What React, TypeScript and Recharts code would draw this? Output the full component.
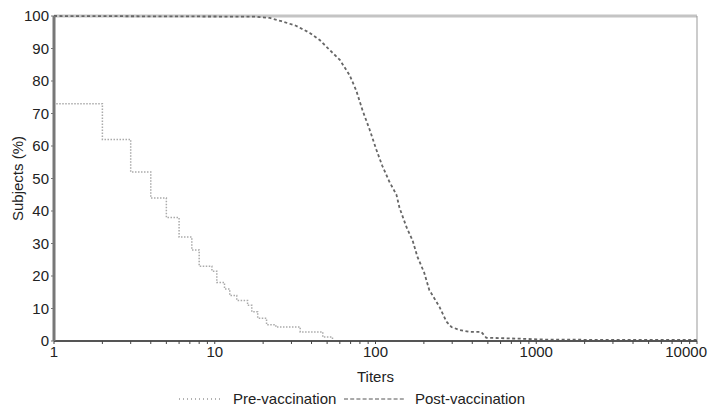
import React from 'react';
import { LineChart, Line, XAxis, YAxis, ReferenceLine, Legend } from 'recharts';

const preTiters = [1, 1, 2, 3, 4, 5, 6, 7.2, 8, 9.6, 10.3, 11.5, 12.4, 13.7, 16, 17, 18.5, 21, 24, 34, 47, 54, 10000];
const preSubjects = [100, 73, 62, 52, 44, 38, 32, 28, 23, 21.5, 18, 16, 14, 12.5, 11, 9, 7, 5, 4.3, 2.8, 1.2, 0, 0];

const postTiters = [1, 18, 22, 26, 32, 39, 45, 52, 60, 69, 76, 83, 92, 101, 110, 122, 135, 141, 156, 170, 182, 201, 216, 250, 276, 297, 333, 384, 455, 489, 800, 1200, 10000];
const postSubjects = [100, 99.8, 99.4, 98.4, 97, 94.8, 92.6, 89.5, 86.5, 81.8, 77, 71, 65, 59, 54, 49, 45, 41, 35, 31, 26, 21, 15.7, 10.5, 6, 4.3, 3.4, 2.8, 2.8, 1, 0.7, 0.4, 0.3];

const majorXTicks = [1, 10, 100, 1000, 10000];
const minorXTicks = [2, 3, 4, 5, 6, 7, 8, 9, 20, 30, 40, 50, 60, 70, 80, 90, 200, 300, 400, 500, 600, 700, 800, 900, 2000, 3000, 4000, 5000, 6000, 7000, 8000, 9000];
const yTicks = [0, 10, 20, 30, 40, 50, 60, 70, 80, 90, 100];

const preData = preTiters.map((x, i) => ({ x, y: preSubjects[i] }));
const postData = postTiters.map((x, i) => ({ x, y: postSubjects[i] }));
const xTicks = [...majorXTicks, ...minorXTicks].sort((a, b) => a - b);

const FONT = '"Liberation Sans", Arial, sans-serif';

const XTick = (props: any) => {
  const { x, y, payload } = props;
  const v = payload.value;
  if (!majorXTicks.includes(v)) return null;
  const last = v === majorXTicks[majorXTicks.length - 1];
  return (
    <text
      x={x}
      y={y + 11}
      dx={last ? 10 : 0}
      textAnchor={last ? 'end' : 'middle'}
      fontFamily={FONT}
      fontSize={15}
      fill="#222"
    >
      {v}
    </text>
  );
};

const LegendContent = () => (
  <svg width={709} height={19}>
    <line x1={179} y1={10} x2={223} y2={10} stroke="#666" strokeWidth={1.2} strokeDasharray="1 3" />
    <text x={233} y={15} fontFamily={FONT} fontSize={15} fill="#222">Pre-vaccination</text>
    <line x1={344} y1={10} x2={405} y2={10} stroke="#555" strokeWidth={1} strokeDasharray="4 2.2" />
    <text x={415} y={15} fontFamily={FONT} fontSize={15} fill="#222">Post-vaccination</text>
  </svg>
);

export default function App() {
  return (
    <div style={{ position: 'absolute', left: 0, top: 0, width: 709, height: 408, background: '#fff' }}>
      <LineChart
        width={709}
        height={408}
        margin={{ top: 16, right: 12, bottom: 8, left: 0 }}
        style={{ fontFamily: FONT }}
      >
        <XAxis
          dataKey="x"
          type="number"
          scale="log"
          domain={[1, 10000]}
          ticks={xTicks}
          interval={0}
          allowDataOverflow
          height={40}
          axisLine={{ stroke: '#555', strokeWidth: 2 }}
          tickLine={{ stroke: '#444', strokeWidth: 1 }}
          tickSize={3}
          tick={<XTick />}
          label={{ value: 'Titers', position: 'insideBottom', offset: -1, fontSize: 15, fill: '#222', fontFamily: FONT }}
        />
        <YAxis
          type="number"
          domain={[0, 100]}
          ticks={yTicks}
          interval={0}
          width={54}
          axisLine={{ stroke: '#777', strokeWidth: 3 }}
          tickLine={{ stroke: '#777', strokeWidth: 1 }}
          tickSize={3}
          tick={{ fontSize: 15, fill: '#222', fontFamily: FONT }}
          label={{ value: 'Subjects (%)', angle: -90, position: 'center', dx: -9, fontSize: 15, fill: '#222', fontFamily: FONT }}
        />
        <ReferenceLine y={100} stroke="#c4c4c4" strokeWidth={3} />
        <ReferenceLine x={10000} stroke="#999" strokeWidth={1} />
        <Legend
          verticalAlign="bottom"
          height={22}
          content={<LegendContent />}
          wrapperStyle={{ position: 'absolute', left: 0, top: 389, width: 709, height: 19 }}
        />
        <Line
          data={preData}
          dataKey="y"
          type="stepAfter"
          stroke="#aaa"
          strokeWidth={1.5}
          strokeDasharray="1.5 1.5"
          dot={false}
          isAnimationActive={false}
          name="Pre-vaccination"
        />
        <Line
          data={postData}
          dataKey="y"
          type="linear"
          stroke="#666"
          strokeWidth={1.8}
          strokeDasharray="3 2.5"
          dot={false}
          isAnimationActive={false}
          name="Post-vaccination"
        />
      </LineChart>
    </div>
  );
}
